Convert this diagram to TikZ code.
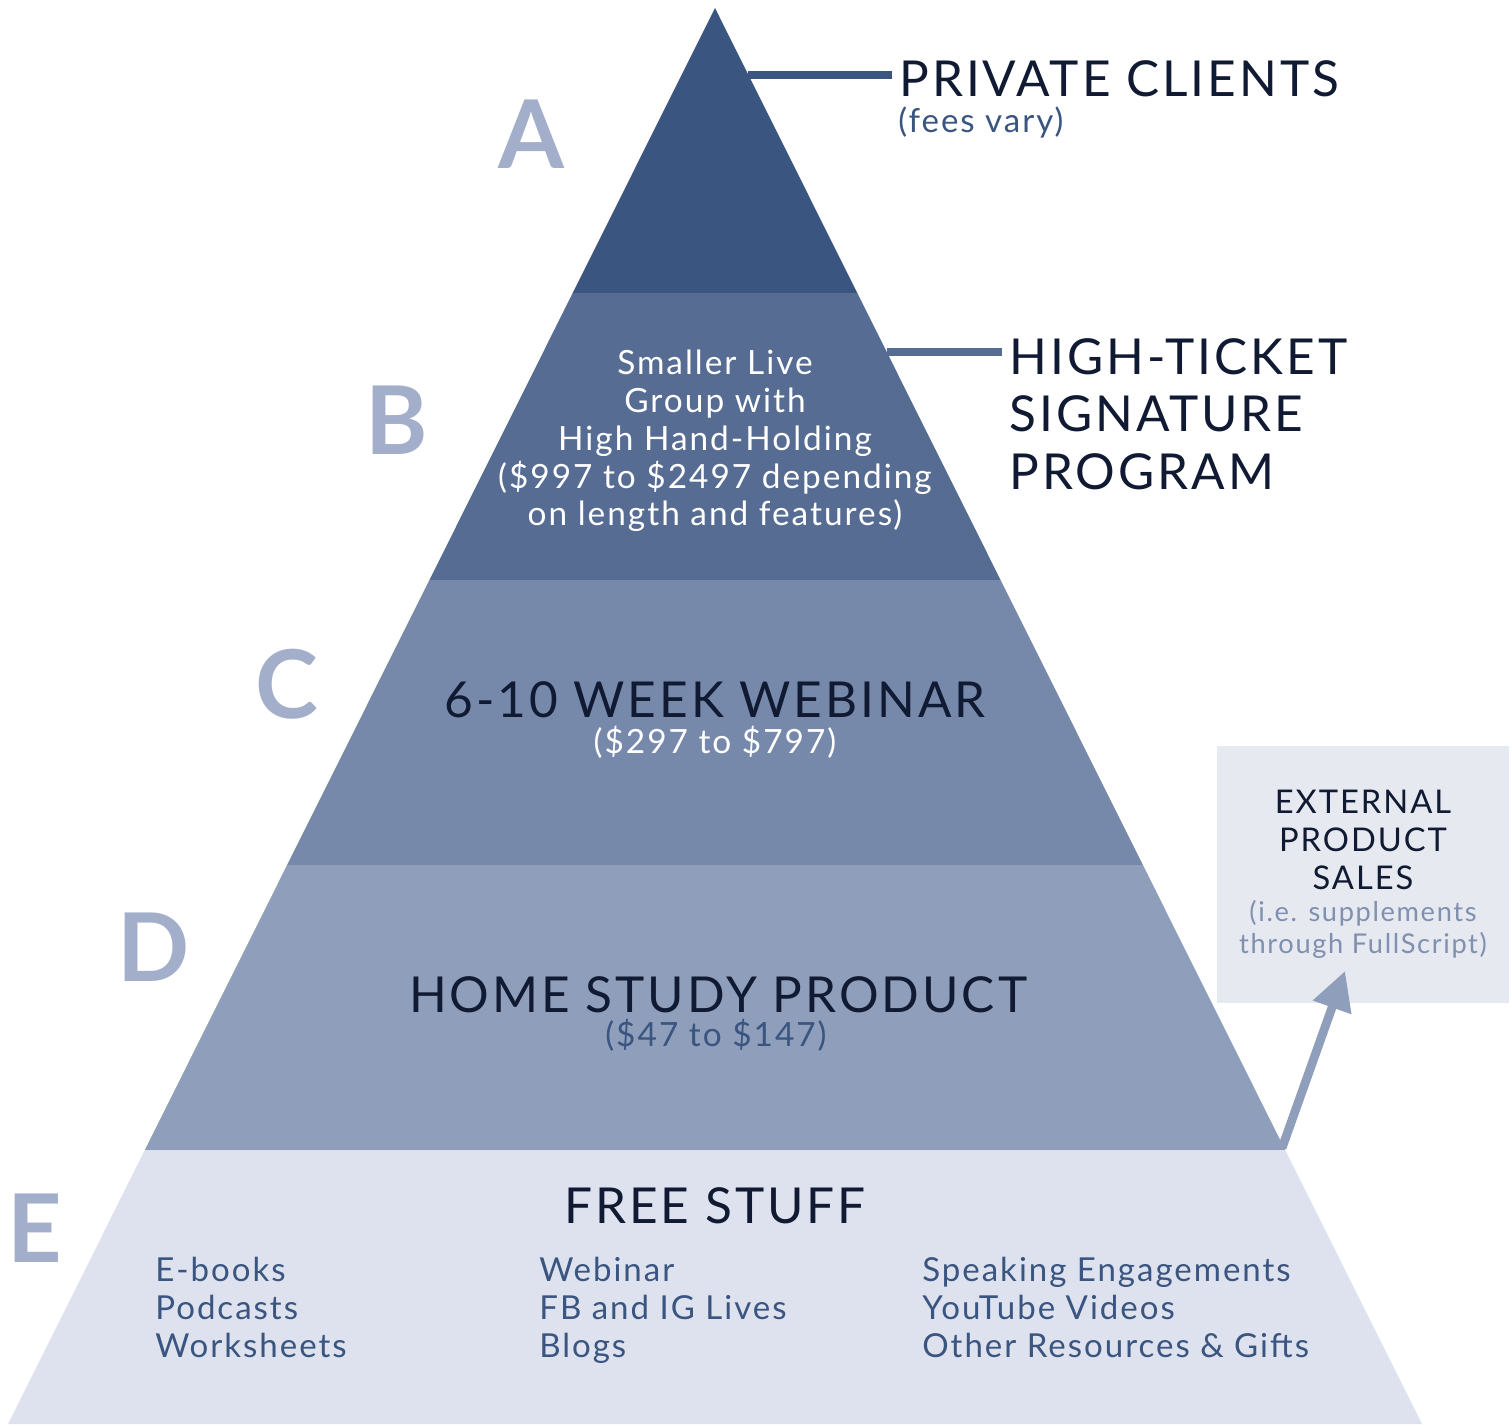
\documentclass[tikz,border=0pt]{standalone}
\usepackage{xcolor}
\usepackage{fontspec}
\setmainfont[LetterSpace=6]{Lato}
\newfontfamily\letterfont{Lato Bold}
\usetikzlibrary{positioning,arrows.meta}

\definecolor{bandA}{HTML}{3A5580}
\definecolor{bandB}{HTML}{566C93}
\definecolor{bandC}{HTML}{7789AB}
\definecolor{bandD}{HTML}{8F9FBB}
\definecolor{bandE}{HTML}{DDE2EE}
\definecolor{lettercol}{HTML}{A3AECB}
\definecolor{inkdark}{HTML}{111A33}
\definecolor{extfill}{HTML}{E6E9EF}
\definecolor{extsub}{HTML}{8090B0}

\begin{document}
\begin{tikzpicture}[x=0.02cm,y=-0.02cm,
    tier/.style={inner sep=0pt, align=center},
    bigtitle/.style={font=\fontsize{28.2}{32.8}\selectfont, text=inkdark},
    tierletter/.style={font=\letterfont\fontsize{54}{54}\selectfont, text=lettercol, inner sep=0pt, anchor=base},
    itemlist/.style={font=\fontsize{18.8}{21.5}\selectfont, text=bandA, align=left, inner sep=0pt, anchor=north west},
    leader/.style={line width=4.6pt},
    extarrow/.style={draw=bandD, line width=5pt, -{Triangle[length=22pt,width=22pt]}}]
    \useasboundingbox (0,0) rectangle (1511,1424);

    % pyramid bands
    \fill[bandA] (715,8) -- (857.3,293) -- (572.7,293) -- cycle;
    \fill[bandB] (572.7,293) -- (857.3,293) -- (1000.6,580) -- (429.4,580) -- cycle;
    \fill[bandC] (429.4,580) -- (1000.6,580) -- (1142.9,865) -- (287.1,865) -- cycle;
    \fill[bandD] (287.1,865) -- (1142.9,865) -- (1285.2,1150) -- (144.8,1150) -- cycle;
    \fill[bandE] (144.8,1150) -- (1285.2,1150) -- (1422,1424) -- (8,1424) -- cycle;

    % tier letters
    \node[tierletter] (letA) at (531,168) {A};
    \node[tierletter] (letB) at (397,454) {B};
    \node[tierletter] (letC) at (287,718) {C};
    \node[tierletter] (letD) at (154,981) {D};
    \node[tierletter] (letE) at (35,1262) {E};

    % A
    \node[bigtitle, inner sep=4pt, anchor=base west] (private) at (892,96) {PRIVATE CLIENTS};
    \node[inner sep=0pt, anchor=base west, text=bandA, font=\fontsize{18.8}{20}\selectfont] (fees) at (898,132) {(fees vary)};
    \coordinate (tipA) at (748,75);
    \draw[leader, bandA] (tipA) -- (tipA -| private.west);

    % B
    \node[tier, text=white, font=\fontsize{19}{21.5}\selectfont] (smaller) at (715,441)
        {Smaller Live\\Group with\\High Hand-Holding\\(\$997 to \$2497 depending\\on length and features)};
    \node[bigtitle, align=left, inner sep=4pt, anchor=north west] (high) at (1002,331)
        {HIGH-TICKET\\SIGNATURE\\PROGRAM};
    \coordinate (tipB) at (887,352);
    \draw[leader, bandB] (tipB) -- (tipB -| high.west);

    % C
    \node[bigtitle, inner sep=0pt, anchor=base] (webinar) at (715,717) {6-10 WEEK WEBINAR};
    \node[inner sep=0pt, anchor=base, text=white, font=\fontsize{19}{21}\selectfont] (webprice) at (715,753) {(\$297 to \$797)};

    % D
    \node[bigtitle, font=\fontsize{28.2}{33}\selectfont, inner sep=0pt, anchor=base] (home) at (718,1012) {HOME STUDY PRODUCT};
    \node[inner sep=0pt, anchor=base, text=bandA, font=\fontsize{19}{21}\selectfont] (homeprice) at (716,1046) {(\$47 to \$147)};

    % E
    \node[bigtitle, inner sep=0pt, anchor=base] (free) at (715,1223) {FREE STUFF};
    \node[itemlist] (colone) at (155,1257) {E-books\\Podcasts\\Worksheets};
    \node[itemlist] (coltwo) at (539,1257) {Webinar\\FB and IG Lives\\Blogs};
    \node[itemlist] (colthree) at (922,1257) {Speaking Engagements\\YouTube Videos\\Other Resources \& Gifts};

    % external sales
    \node[fill=extfill, minimum width=5.84cm, minimum height=5.14cm, align=center, inner sep=0pt,
          text=inkdark, font=\fontsize{18.6}{21.5}\selectfont] (ext) at (1363,874.5)
        {EXTERNAL\\PRODUCT\\SALES\\[-3pt]
         {\fontsize{15.5}{18}\selectfont\color{extsub}(i.e. supplements}\\[-3.5pt]
         {\fontsize{15.5}{18}\selectfont\color{extsub}through FullScript)}};
    \coordinate (cornerD) at (1282,1148);
    \coordinate (extin) at (1345,971);
    \draw[extarrow] (cornerD) -- (extin);
\end{tikzpicture}
\end{document}
